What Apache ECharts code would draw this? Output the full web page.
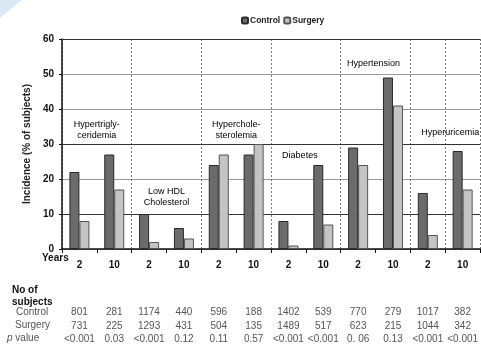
<!DOCTYPE html>
<html><head><meta charset="utf-8">
<script src="https://cdn.jsdelivr.net/npm/echarts@6/dist/echarts.min.js"></script>
<style>html,body{margin:0;padding:0;background:#fff}#c{width:481px;height:347px}</style>
</head><body><div id="c"></div>
<script>
const years = ['2','10','2','10','2','10','2','10','2','10','2','10'];
const groups = ['Hypertrigly-\nceridemia','Low HDL\nCholesterol','Hyperchole-\nsterolemia','Diabetes','Hypertension','Hyperuricemia'];
const control = [22,27,10,6,24,27,8,24,29,49,16,28];
const surgery = [8,17,2,3,27,30,1,7,24,41,4,17];
const controlN = ['801','281','1174','440','596','188','1402','539','770','279','1017','382'];
const surgeryN = ['731','225','1293','431','504','135','1489','517','623','215','1044','342'];
const pValues = ['<0.001','0.03','<0.001','0.12','0.11','0.57','<0.001','<0.001','0. 06','0.13','<0.001','<0.001'];
const yTicks = [0,10,20,30,40,50,60];
const groupLabelY = [33.9,14.9,33.9,26.7,52.9,33.2];

const F = 'Liberation Sans, Arial, sans-serif';
const labelShift = [0,0,0,-6,-2,5];
const chart = echarts.init(document.getElementById('c'));
function rowAxis(data, offset){
  return {type:'category', data:data, position:'bottom', offset:offset,
    axisLine:{show:false}, axisTick:{show:false}, splitLine:{show:false},
    axisLabel:{interval:0, color:'#555', fontSize:10, fontFamily:F, margin:8}};
}
chart.setOption({
  animation:false,
  textStyle:{fontFamily:F},
  legend:{top:11, left:236, itemWidth:6, itemHeight:6, itemGap:3,
    textStyle:{fontSize:8.5, fontWeight:'bold', color:'#222', padding:[0,0,0,-3]},
    data:['Control','Surgery']},
  grid:{left:62, right:-1, top:39, bottom:98, containLabel:false},
  xAxis:[
    {type:'category', data:years, position:'bottom',
      axisLine:{lineStyle:{color:'#111', width:1.5}},
      axisTick:{show:true, interval:0, length:4, lineStyle:{color:'#111'}},
      splitLine:{show:true, interval:1, lineStyle:{color:'#777', type:[2,2], width:1}},
      axisLabel:{interval:0, fontSize:10, fontWeight:'bold', color:'#111', margin:11}},
    rowAxis(controlN, 50),
    rowAxis(surgeryN, 64),
    rowAxis(pValues, 77),
    {type:'category', data:groups, show:false}
  ],
  yAxis:{type:'value', min:0, max:60, interval:10,
    name:'Incidence (% of subjects)', nameLocation:'middle', nameGap:23,
    nameTextStyle:{fontSize:10, fontWeight:'bold', color:'#222'},
    axisLine:{show:true, lineStyle:{color:'#111', width:1.5}},
    axisTick:{show:true, length:3, lineStyle:{color:'#111'}},
    axisLabel:{fontSize:10, fontWeight:'bold', color:'#111', margin:8,
      formatter:v=>yTicks.includes(v)?String(v):''},
    splitLine:{lineStyle:{color:'#999', width:1}}},
  series:[
    {name:'Control', type:'bar', data:control, barWidth:10, barGap:'0%',
      itemStyle:{color:'#6b6b6b', borderColor:'#2a2a2a', borderWidth:1},
      markLine:{silent:true, symbol:'none', label:{show:false},
        lineStyle:{color:'#333', type:'solid', width:1.2},
        data:[{yAxis:10},{yAxis:30},{yAxis:60}], z:1}},
    {name:'Surgery', type:'bar', data:surgery, barWidth:10,
      itemStyle:{color:'#c4c4c4', borderColor:'#555', borderWidth:1}},
    {type:'scatter', xAxisIndex:4, symbolSize:0, silent:true,
      itemStyle:{color:'#000', opacity:1},
      data:groups.map((g,i)=>({value:[i, groupLabelY[i]], label:{offset:[labelShift[i],0]}})),
      label:{show:true, position:'inside', formatter:p=>groups[p.dataIndex],
        fontSize:9, color:'#000', opacity:1, textBorderWidth:0, textBorderColor:'transparent',
        lineHeight:11, align:'center', verticalAlign:'middle'}}
  ],
  graphic:[
    {type:'polygon', shape:{points:[[0,0],[22,0],[0,18]]}, style:{fill:'#dbe9f7'}},
    {type:'text', left:42, top:253, style:{text:'Years', font:'bold 10px '+F, fill:'#111'}},
    {type:'text', left:12, top:284, style:{text:'No of\nsubjects', font:'bold 10px '+F, fill:'#111', lineHeight:12}},
    {type:'text', left:16, top:307, style:{text:'Control', font:'10px '+F, fill:'#555'}},
    {type:'text', left:15, top:320, style:{text:'Surgery', font:'10px '+F, fill:'#555'}},
    {type:'text', left:7, top:333, style:{text:'{i|p} value', fill:'#555', font:'10px '+F,
      rich:{i:{fontStyle:'italic', fontSize:10, fill:'#555', fontFamily:F}}}}
  ]
});
</script></body></html>
